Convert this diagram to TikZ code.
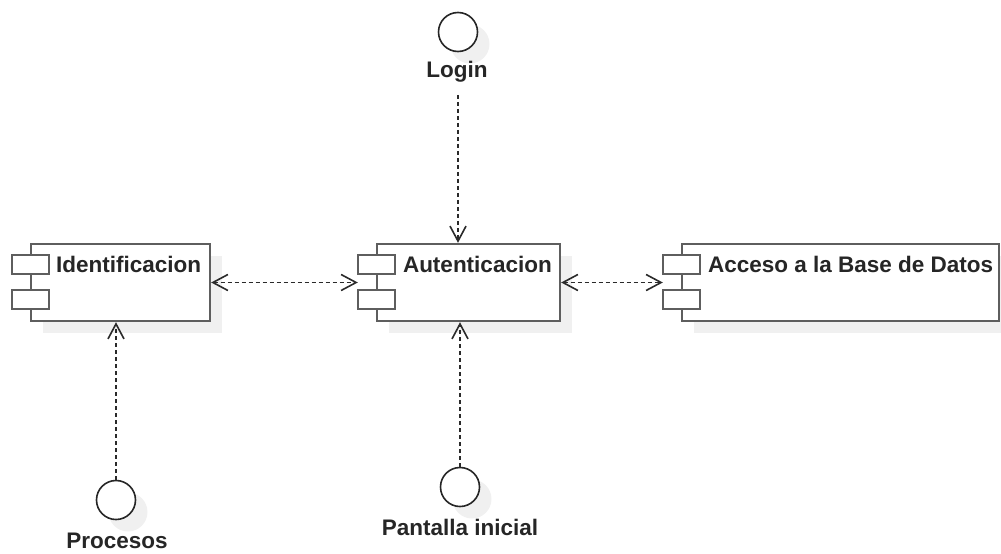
\documentclass[tikz,border=0pt]{standalone}
\usepackage{fontspec}
\setmainfont{Liberation Sans}
\usetikzlibrary{arrows.meta,calc,shadows}
\definecolor{edge}{HTML}{2A2A2A}
\definecolor{boxline}{HTML}{5E5E5E}
\definecolor{shade}{HTML}{F0F0F0}
\definecolor{ink}{HTML}{262626}

\begin{document}
\begin{tikzpicture}[x=1pt,y=-1pt,
  softshadow/.style={drop shadow={shadow xshift=12pt,shadow yshift=-12pt,fill=shade,opacity=1}},
  compbox/.style={rectangle,draw=boxline,line width=2.4pt,fill=white,inner sep=0pt,minimum height=77pt,softshadow},
  tab/.style={draw=boxline,line width=2.4pt,fill=white},
  iface/.style={circle,draw=ink,line width=1.6pt,fill=white,minimum size=39pt,inner sep=0pt,softshadow},
  txt/.style={font=\fontsize{22.5}{27}\selectfont\bfseries,text=ink,inner sep=0pt},
  barb/.tip={Straight Barb[length=15pt,width=16pt]},
  dep/.style={draw=edge,line width=1.6pt,dash pattern=on 4pt off 3pt},
  toarrow/.style={dep,-barb},
  biarrow/.style={dep,barb-barb}
]
\useasboundingbox (0,0) rectangle (1001,554);

% components
\node[compbox,minimum width=179pt] (ident)  at (120.5,282.5) {};
\node[compbox,minimum width=183pt] (auten)  at (468.5,282.5) {};
\node[compbox,minimum width=317pt] (acceso) at (840.5,282.5) {};

% the two small tabs on the left side of each component
\foreach \n in {ident,auten,acceso} {
  \draw[tab] ($(\n.north west)+(-18,12)$) rectangle ++(37,19);
  \draw[tab] ($(\n.north west)+(-18,47)$) rectangle ++(37,19);
}

% component names
\node[txt,anchor=base west] (identtxt)  at ($(ident.north west)+(26,30)$)  {Identificacion};
\node[txt,anchor=base west] (autentxt)  at ($(auten.north west)+(27,30)$)  {Autenticacion};
\node[txt,anchor=base west] (accesotxt) at ($(acceso.north west)+(27,30)$) {Acceso a la Base de Datos};

% provided interfaces
\node[iface] (login)    at (458,32)  {};
\node[iface] (pantalla) at (460,487) {};
\node[iface] (procesos) at (116,500) {};

\node[txt,anchor=base] (loginlbl)    at (457,77)  {Login};
\node[txt,anchor=base] (pantallalbl) at (460,535) {Pantalla inicial};
\node[txt,anchor=base] (procesoslbl) at (117,548) {Procesos};

% dependencies
\draw[toarrow,shorten <=13pt] (login |- loginlbl.south) -- (login |- auten.north);
\draw[toarrow] (pantalla.north) -- (pantalla.north |- auten.south);
\draw[toarrow] (procesos.north) -- (procesos.north |- ident.south);
\draw[biarrow] (ident.east) -- ($(auten.west)+(-18,0)$);
\draw[biarrow] (auten.east) -- ($(acceso.west)+(-18,0)$);
\end{tikzpicture}
\end{document}
